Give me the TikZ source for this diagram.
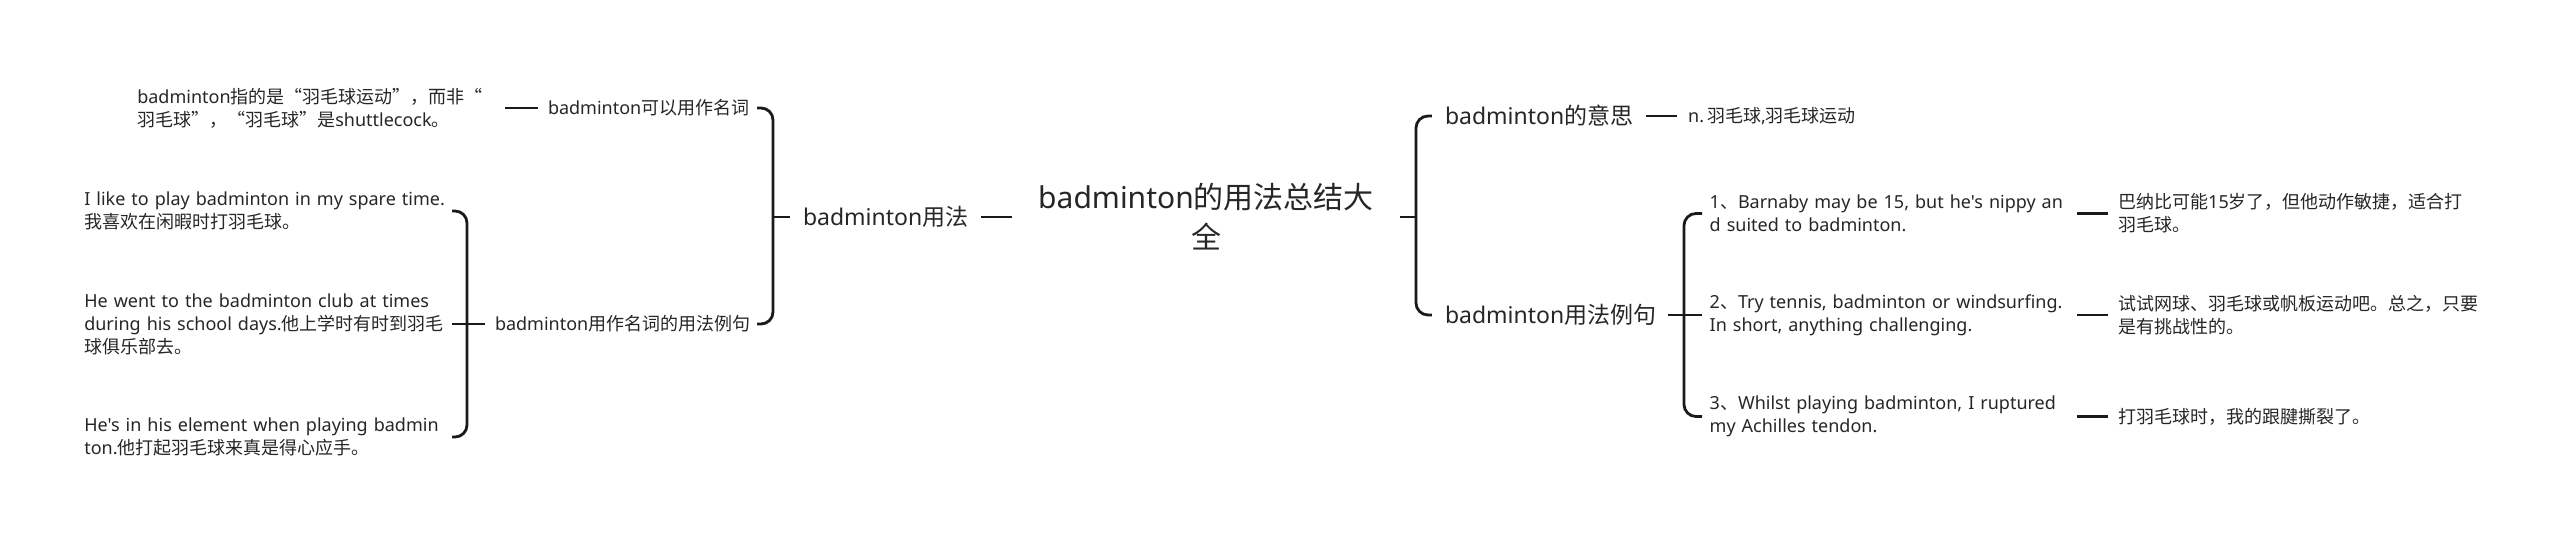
\documentclass[tikz,border=0pt]{standalone}
\usepackage{fontspec}
\setmainfont{Noto Sans}[Ligatures=TeXOff]
\newfontfamily\zhfont{Noto Sans CJK SC}
\newcommand{\zhs}[1]{{\zhfont #1}}
\definecolor{ink}{HTML}{262626}
\definecolor{wire}{HTML}{1A1A1A}
\begin{document}
\begin{tikzpicture}[x=1pt,y=-1pt,
  every node/.style={text=ink, inner ysep=2pt},
  conn/.style={draw=wire, line width=2.8pt, rounded corners=12pt},
  rootnode/.style={font=\fontsize{30}{40}\selectfont, align=center, text width=342pt, inner xsep=23pt},
  subnode/.style={font=\fontsize{23}{28}\selectfont, align=center, inner xsep=13pt},
  lblnode/.style={font=\fontsize{18}{23}\selectfont, align=center, inner xsep=10pt},
  leafnode/.style={font=\fontsize{18}{23}\selectfont, align=left, text width=360pt, inner xsep=7.5pt},
]
\useasboundingbox (0,0) rectangle (2560,545);

% centre
\node[rootnode] (root) at (1206,217) {badminton\zhs{的用法总结大}\\\zhs{全}};

% left branch
\node[subnode, text width=165pt] (use) at (885.5,217) {badminton\zhs{用法}};
\coordinate (bL) at (773,217);
\node[lblnode, text width=199pt] (noun) at (647.5,108) {badminton\zhs{可以用作名词}};
\node[lblnode, text width=252pt] (nounex) at (621,324) {badminton\zhs{用作名词的用法例句}};
\node[leafnode, anchor=east] (def) at (505,108) {badminton\zhs{指的是“羽毛球运动”，而非“}\\\zhs{羽毛球”，“羽毛球”是}shuttlecock\zhs{。}};
\coordinate (bL2) at (467,324);
\node[leafnode, anchor=east] (ex1) at (452,211) {\mbox{I like to play badminton in my spare time.}\\\zhs{我喜欢在闲暇时打羽毛球。}};
\node[leafnode, anchor=east] (ex2) at (452,324) {\mbox{He went to the badminton club at times}\\\mbox{during his school days.\zhs{他上学时有时到羽毛}}\\\zhs{球俱乐部去。}};
\node[leafnode, anchor=east] (ex3) at (452,437) {\mbox{He's in his element when playing badmin}\\ton.\zhs{他打起羽毛球来真是得心应手。}};

% right branch
\coordinate (bR) at (1416,217);
\node[subnode, text width=188pt] (mean) at (1539,116) {badminton\zhs{的意思}};
\node[leafnode, anchor=west, inner xsep=11pt] (meanv) at (1677,116) {n.\,\zhs{羽毛球},\zhs{羽毛球运动}};
\node[subnode, text width=210pt] (rex) at (1550,315) {badminton\zhs{用法例句}};
\coordinate (bR2) at (1684,315);
\node[leafnode, anchor=west] (s1) at (1702,213.5) {\mbox{1\zhs{、}Barnaby may be 15, but he's nippy an}\\d suited to badminton.};
\node[leafnode, anchor=west] (s2) at (1702,315) {\mbox{2\zhs{、}Try tennis, badminton or windsurfing.}\\In short, anything challenging.};
\node[leafnode, anchor=west] (s3) at (1702,416.5) {\mbox{3\zhs{、}Whilst playing badminton, I ruptured}\\my Achilles tendon.};
\node[leafnode, anchor=west, inner xsep=10pt, text width=400pt] (t1) at (2108,213.5) {\zhs{巴纳比可能}15\zhs{岁了，但他动作敏捷，适合打}\\\zhs{羽毛球。}};
\node[leafnode, anchor=west, inner xsep=10pt, text width=400pt] (t2) at (2108,315) {\zhs{试试网球、羽毛球或帆板运动吧。总之，只要}\\\zhs{是有挑战性的。}};
\node[leafnode, anchor=west, inner xsep=10pt, text width=400pt] (t3) at (2108,416.5) {\zhs{打羽毛球时，我的跟腱撕裂了。}};

% connectors
\draw[conn] (root.west) -- (use.east);
\draw[conn] (use.west) -- (bL);
\draw[conn] (noun.east) -| (bL) |- (nounex.east);
\draw[conn] (def.east) -- (noun.west);
\draw[conn] (nounex.west) -- (ex2.east);
\draw[conn] (ex1.east) -| (bL2) |- (ex3.east);

\draw[conn] (root.east) -- (bR);
\draw[conn] (mean.west) -| (bR) |- (rex.west);
\draw[conn] (mean.east) -- (meanv.west);
\draw[conn] (rex.east) -- (s2.west);
\draw[conn] (s1.west) -| (bR2) |- (s3.west);
\draw[conn] (s1.east) -- (t1.west);
\draw[conn] (s2.east) -- (t2.west);
\draw[conn] (s3.east) -- (t3.west);
\end{tikzpicture}
\end{document}
